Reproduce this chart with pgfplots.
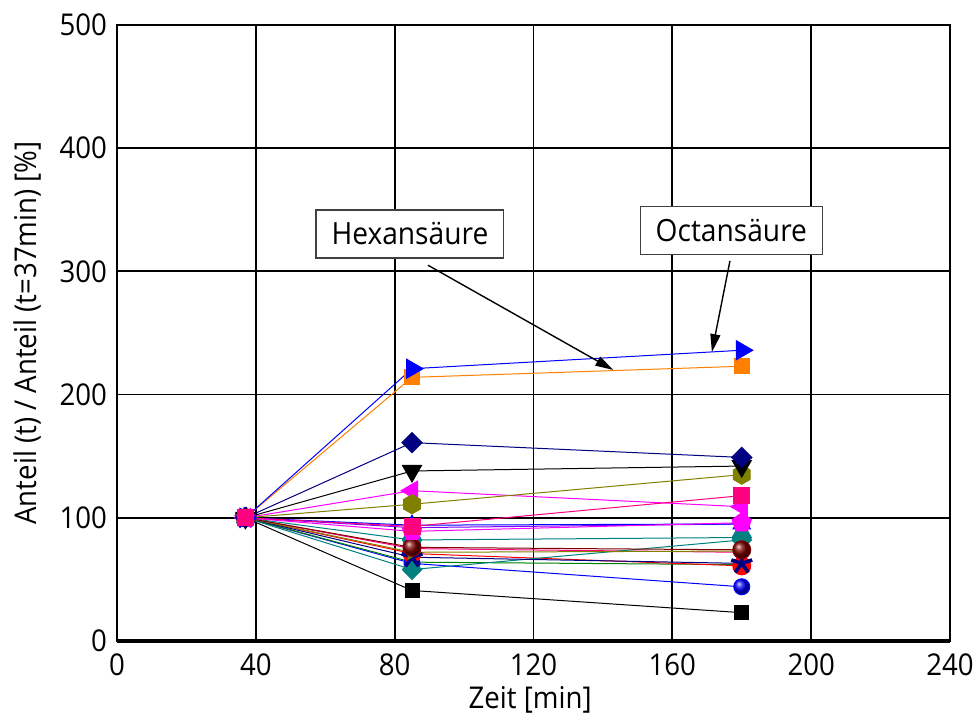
\documentclass[border=0pt]{standalone}
\usepackage{fontspec}
\setmainfont{Open Sans}[FakeStretch=0.92]
\usepackage{pgfplots}
\pgfplotsset{compat=1.18}
\usetikzlibrary{arrows.meta}

\definecolor{cblue}{RGB}{0,0,255}
\definecolor{corange}{RGB}{255,128,0}
\definecolor{cnavy}{RGB}{0,0,128}
\definecolor{cmagenta}{RGB}{255,0,255}
\definecolor{colive}{RGB}{128,128,0}
\definecolor{cpink}{RGB}{255,0,128}
\definecolor{cteal}{RGB}{0,128,128}
\definecolor{cdarkred}{RGB}{128,0,0}
\definecolor{cred}{RGB}{255,0,0}
\definecolor{cgreen}{RGB}{0,128,0}
\definecolor{cviolet}{RGB}{128,0,255}

% hexagon marks (pointed top / flat top)
\pgfdeclareplotmark{hexagon*}{%
  \pgfpathmoveto{\pgfqpointpolar{90}{\pgfplotmarksize}}%
  \pgfpathlineto{\pgfqpointpolar{150}{\pgfplotmarksize}}%
  \pgfpathlineto{\pgfqpointpolar{210}{\pgfplotmarksize}}%
  \pgfpathlineto{\pgfqpointpolar{270}{\pgfplotmarksize}}%
  \pgfpathlineto{\pgfqpointpolar{330}{\pgfplotmarksize}}%
  \pgfpathlineto{\pgfqpointpolar{30}{\pgfplotmarksize}}%
  \pgfpathclose\pgfusepathqfillstroke}
\pgfdeclareplotmark{hexflat*}{%
  \pgfpathmoveto{\pgfqpointpolar{0}{\pgfplotmarksize}}%
  \pgfpathlineto{\pgfqpointpolar{60}{\pgfplotmarksize}}%
  \pgfpathlineto{\pgfqpointpolar{120}{\pgfplotmarksize}}%
  \pgfpathlineto{\pgfqpointpolar{180}{\pgfplotmarksize}}%
  \pgfpathlineto{\pgfqpointpolar{240}{\pgfplotmarksize}}%
  \pgfpathlineto{\pgfqpointpolar{300}{\pgfplotmarksize}}%
  \pgfpathclose\pgfusepathqfillstroke}

\begin{document}
\begin{tikzpicture}
\begin{axis}[
  scale only axis,
  width=416.5pt, height=308pt,
  xmin=0, xmax=240, ymin=0, ymax=500,
  xtick={0,40,...,240}, ytick={0,100,...,500},
  grid=major,
  grid style={black, line width=0.9pt},
  axis line style={black, line width=1pt},
  major tick length=0pt,
  /pgf/number format/assume math mode=true,
  tick label style={font=\fontsize{15}{18}\selectfont},
  xticklabel style={yshift=-3pt},
  yticklabel style={xshift=-1.5pt},
  label style={font=\fontsize{15}{18}\selectfont},
  xlabel={Zeit [min]},
  ylabel={Anteil (t) / Anteil (t=37min) [\%]},
  xlabel style={at={(axis description cs:0.496,-0.096)}, anchor=center},
  ylabel style={at={(axis description cs:-0.1074,0.5)}, anchor=center},
  every axis plot/.append style={line width=0.5pt},
  clip=false,
]
% lower cluster
\addplot[cblue, mark=ball, mark size=4pt, mark options={ball color=cblue}]
  coordinates {(37,100) (85,63) (180,44)};
\addplot[black, mark=square*, mark size=3.5pt, mark options={fill=black}]
  coordinates {(37,100) (85,41) (180,23)};
\addplot[cgreen, mark=triangle*, mark size=4pt, mark options={fill=cgreen}]
  coordinates {(37,100) (85,64) (180,62)};
\addplot[cred, mark=*, mark size=4.5pt, mark options={fill=cred}]
  coordinates {(37,100) (85,71) (180,61)};
\addplot[cpink, mark=*, mark size=3.5pt, mark options={fill=cpink}]
  coordinates {(37,100) (85,75) (180,72)};
\addplot[cteal, mark=diamond*, mark size=5pt, mark options={fill=cteal, xscale=1.3}]
  coordinates {(37,100) (85,58) (180,82)};
\addplot[cnavy, mark=star, mark size=5.5pt, mark options={fill=cnavy, line width=1.8pt}]
  coordinates {(37,100) (85,68) (180,63)};
\addplot[colive, mark=triangle*, mark size=4pt, mark options={fill=colive, rotate=-90}]
  coordinates {(37,100) (85,72) (180,73)};
\addplot[cviolet, mark=triangle*, mark size=4pt, mark options={fill=cviolet}]
  coordinates {(37,100) (85,92) (180,95)};
\addplot[cteal, mark=hexflat*, mark size=4.8pt, mark options={fill=cteal}]
  coordinates {(37,100) (85,82) (180,84)};
\addplot[cdarkred, mark=ball, mark size=4.5pt, mark options={ball color=cdarkred}]
  coordinates {(37,100) (85,76) (180,74)};
\addplot[cblue, mark=triangle*, mark size=5pt, mark options={fill=cblue}]
  coordinates {(37,100) (85,94) (180,95)};
\addplot[cmagenta, mark=pentagon*, mark size=5pt, mark options={fill=cmagenta}]
  coordinates {(37,100) (85,89) (180,96)};
% upper series
\addplot[cmagenta, mark=triangle*, mark size=5.5pt, mark options={fill=cmagenta, rotate=90}]
  coordinates {(37,100) (85,122) (180,109)};
\addplot[colive, mark=hexagon*, mark size=4.8pt, mark options={fill=colive}]
  coordinates {(37,100) (85,111) (180,135)};
\addplot[black, mark=triangle*, mark size=5.5pt, mark options={fill=black, rotate=180}]
  coordinates {(37,100) (85,138) (180,142)};
\addplot[cnavy, mark=diamond*, mark size=5pt, mark options={fill=cnavy, xscale=1.35}]
  coordinates {(37,100) (85,161) (180,149)};
% Hexansaeure
\addplot[corange, mark=square*, mark size=3.8pt, mark options={fill=corange}]
  coordinates {(37,100) (85,214) (180,223)};
% Octansaeure
\addplot[cblue, mark=triangle*, mark size=5.5pt, mark options={fill=cblue, rotate=-90}]
  coordinates {(37,100) (85,221) (180,236)};
\addplot[cpink, mark=square*, mark size=4pt, mark options={fill=cpink}]
  coordinates {(37,100) (85,93) (180,118)};

% heavier bottom axis line
\draw[black, line width=1.6pt] (axis cs:0,0) -- (axis cs:240,0);

% annotations
\draw[black, line width=0.7pt, -{Triangle[length=9pt,width=5pt]}]
  (axis cs:89.6,305) -- (axis cs:143,220);
\draw[black, line width=0.7pt, -{Triangle[length=9pt,width=5pt]}]
  (axis cs:176.6,308.5) -- (axis cs:171.4,234.5);
\node[draw=black!75, line width=0.6pt, fill=white, inner xsep=7.75pt,
      minimum height=24pt, font=\fontsize{15.3}{18}\selectfont]
  at (axis cs:84.4,330.4) {Hexansäure};
\node[draw=black!75, line width=0.6pt, fill=white, inner xsep=7.75pt,
      minimum height=24pt, font=\fontsize{15.3}{18}\selectfont]
  at (axis cs:177,333) {Octansäure};
\end{axis}
\pgfresetboundingbox
\path[use as bounding box]
  ([xshift=-58.5pt, yshift=-37.5pt]current axis.south west)
  rectangle ([xshift=14.5pt, yshift=12.5pt]current axis.north east);
\end{tikzpicture}
\end{document}
